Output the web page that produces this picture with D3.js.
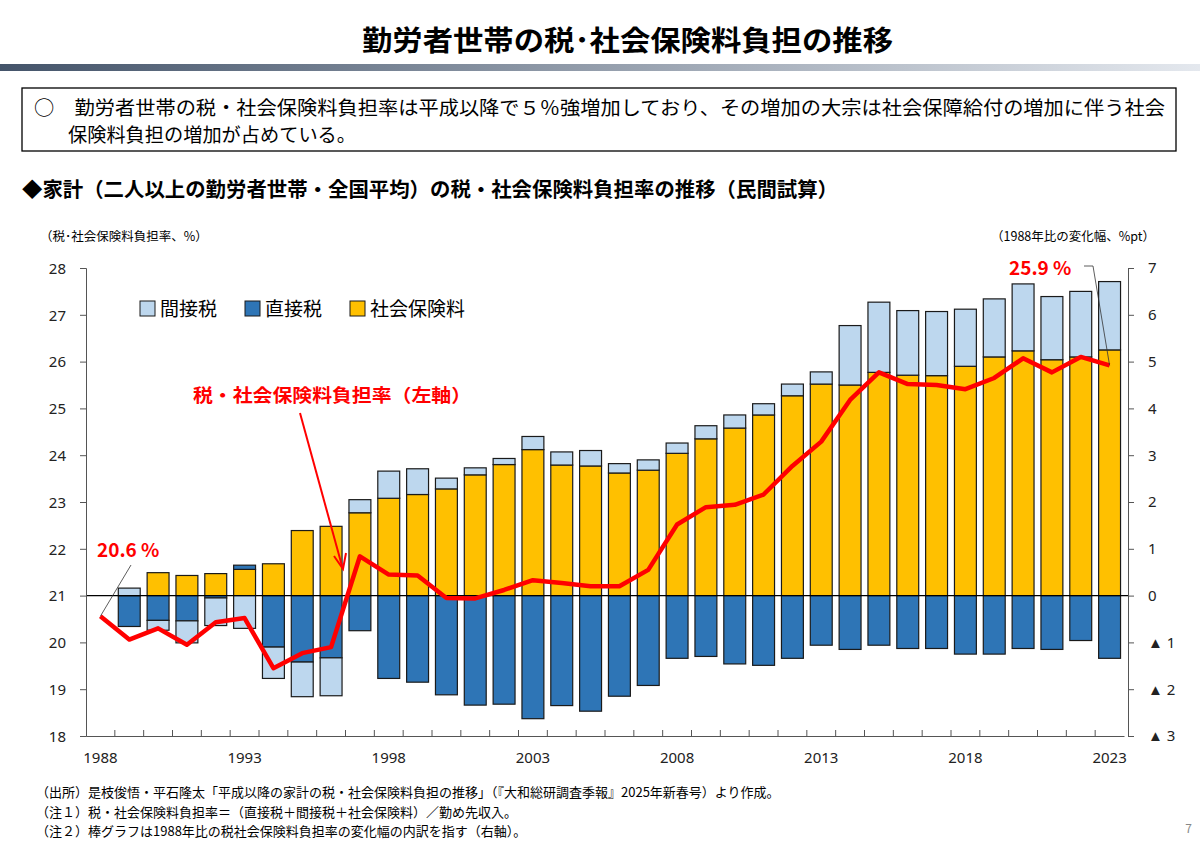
<!DOCTYPE html>
<html><head><meta charset="utf-8">
<script src="https://cdn.jsdelivr.net/npm/d3@7"></script>
<style>
body{margin:0;background:#fff;font-family:"Noto Sans CJK JP","Noto Sans",sans-serif;}
</style></head>
<body><svg id="chart" width="1200" height="849"></svg>
<script>
// years on the x axis
var years = d3.range(1988, 2024);
// change vs 1988, %pt (right axis)
var socialIns = [0,0,0.49,0.43,0.47,0.56,0.68,1.39,1.48,1.77,2.08,2.16,2.28,2.58,2.80,3.12,2.79,2.77,2.62,2.68,3.04,3.35,3.58,3.86,4.27,4.52,4.50,4.77,4.71,4.70,4.90,5.10,5.23,5.04,5.10,5.25];
var directTax = [0,-0.66,-0.53,-0.54,-0.05,0.09,-1.10,-1.42,-1.33,-0.75,-1.77,-1.85,-2.12,-2.34,-2.32,-2.63,-2.35,-2.47,-2.15,-1.92,-1.34,-1.30,-1.46,-1.49,-1.34,-1.06,-1.15,-1.06,-1.13,-1.13,-1.25,-1.25,-1.13,-1.15,-0.96,-1.34];
var indirectTax = [0,0.16,-0.21,-0.47,-0.59,-0.70,-0.67,-0.74,-0.81,0.28,0.58,0.55,0.23,0.15,0.13,0.28,0.28,0.33,0.20,0.22,0.22,0.28,0.28,0.24,0.25,0.26,1.27,1.50,1.38,1.37,1.22,1.24,1.43,1.35,1.40,1.46];
// burden rate, % (left axis)
var burdenRate = [20.56,20.06,20.30,19.95,20.43,20.52,19.45,19.77,19.90,21.84,21.45,21.43,20.95,20.94,21.12,21.33,21.27,21.20,21.20,21.55,22.52,22.89,22.94,23.16,23.77,24.29,25.18,25.77,25.52,25.50,25.41,25.65,26.07,25.77,26.10,25.92];
var leftTicks = d3.range(18, 29);
var rightTicks = d3.range(-3, 8);
var xLabels = [1988,1993,1998,2003,2008,2013,2018,2023];

var svg = d3.select("#chart");
var C = {ind:"#bdd7ee", dir:"#2e75b6", soc:"#ffc000"};

// header
var grad = svg.append("defs").append("linearGradient").attr("id","hg");
grad.append("stop").attr("offset","0").attr("stop-color","#44546a");
grad.append("stop").attr("offset","1").attr("stop-color","#e4e8ee");
svg.append("rect").attr("x",0).attr("y",64).attr("width",1200).attr("height",7).attr("fill","url(#hg)");
svg.append("text").attr("x",362).attr("y",51).attr("textLength",531).attr("lengthAdjust","spacingAndGlyphs")
  .attr("font-size",28).attr("font-weight","bold").text("勤労者世帯の税･社会保険料負担の推移");

svg.append("rect").attr("x",22).attr("y",88).attr("width",1154).attr("height",63)
  .attr("fill","none").attr("stroke","#000").attr("stroke-width",1.3);
svg.append("text").attr("x",34).attr("y",115).attr("font-size",19).attr("textLength",1131).attr("lengthAdjust","spacingAndGlyphs")
  .text("○　勤労者世帯の税・社会保険料負担率は平成以降で５％強増加しており、その増加の大宗は社会保障給付の増加に伴う社会");
svg.append("text").attr("x",68).attr("y",142).attr("font-size",19).attr("textLength",288).attr("lengthAdjust","spacingAndGlyphs")
  .text("保険料負担の増加が占めている。");
svg.append("text").attr("x",22).attr("y",197).attr("font-size",20).attr("font-weight","bold")
  .attr("textLength",816).attr("lengthAdjust","spacingAndGlyphs")
  .text("◆家計（二人以上の勤労者世帯・全国平均）の税・社会保険料負担率の推移（民間試算）");

svg.append("text").attr("x",40).attr("y",241).attr("font-size",12.5).text("（税･社会保険料負担率、%）");
svg.append("text").attr("x",1155).attr("y",241).attr("font-size",12.5).attr("text-anchor","end").text("（1988年比の変化幅、%pt）");

// scales
var x = d3.scaleBand().domain(years).range([86,1124]).paddingInner(0.24).paddingOuter(0.12);
var yL = d3.scaleLinear().domain([18,28]).range([736,268]);
var yR = d3.scaleLinear().domain([-3,7]).range([736,268]);

// stacked bars (positives up from 0, negatives down from 0)
var segs = [];
years.forEach(function(yr,i){
  var pos = 0, neg = 0;
  [["soc",socialIns[i]],["dir",directTax[i]],["ind",indirectTax[i]]].forEach(function(p){
    var v = p[1]; if (v === 0) return;
    if (v > 0) { segs.push({yr:yr,k:p[0],a:pos,b:pos+v}); pos += v; }
    else { segs.push({yr:yr,k:p[0],a:neg+v,b:neg}); neg += v; }
  });
});
svg.append("g").selectAll("rect").data(segs).enter().append("rect")
  .attr("x",function(d){return x(d.yr);})
  .attr("width",x.bandwidth())
  .attr("y",function(d){return yR(d.b);})
  .attr("height",function(d){return yR(d.a)-yR(d.b);})
  .attr("fill",function(d){return C[d.k];})
  .attr("stroke","#1a1a1a").attr("stroke-width",1.2);

// zero line
svg.append("line").attr("x1",86).attr("x2",1128).attr("y1",yR(0)).attr("y2",yR(0)).attr("stroke","#000").attr("stroke-width",1.2);

// axes
var axL = svg.append("g").attr("transform","translate(86,0)")
  .call(d3.axisLeft(yL).tickValues(leftTicks).tickSize(6).tickPadding(14));
var axR = svg.append("g").attr("transform","translate(1128,0)")
  .call(d3.axisRight(yR).tickValues(rightTicks).tickSize(6).tickPadding(14)
    .tickFormat(function(d){return d < 0 ? "▲ " + (-d) : d;}));
var axB = svg.append("g").attr("transform","translate(0,736)")
  .call(d3.axisBottom(x).tickValues(xLabels).tickSize(0).tickPadding(16));
[axL,axR,axB].forEach(function(a){
  a.selectAll("text").attr("font-size",15).attr("fill","#222").attr("font-family","Noto Sans, sans-serif");
  a.selectAll("path,line").attr("stroke","#555");
});
axL.selectAll("text").attr("dy","0.35em");
// small x ticks between bars
svg.append("g").selectAll("line").data(years.slice(1)).enter().append("line")
  .attr("x1",function(d){return x(d)-x.step()*0.12;})
  .attr("x2",function(d){return x(d)-x.step()*0.12;})
  .attr("y1",736).attr("y2",730).attr("stroke","#555");

// rate line
var line = d3.line().x(function(d,i){return x(years[i])+x.bandwidth()/2;}).y(function(d){return yL(d);});
svg.append("path").datum(burdenRate).attr("d",line).attr("fill","none")
  .attr("stroke","#ff0000").attr("stroke-width",4.5).attr("stroke-linejoin","round");

// legend
var leg = [["間接税","ind",140],["直接税","dir",245],["社会保険料","soc",350]];
leg.forEach(function(l){
  svg.append("rect").attr("x",l[2]).attr("y",301).attr("width",15).attr("height",15)
    .attr("fill",C[l[1]]).attr("stroke","#1a1a1a");
  svg.append("text").attr("x",l[2]+20).attr("y",316).attr("font-size",19).text(l[0]);
});

// annotations
svg.append("text").attr("x",193).attr("y",402).attr("font-size",18).attr("font-weight","bold")
  .attr("textLength",278).attr("lengthAdjust","spacingAndGlyphs")
  .attr("fill","#ff0000").text("税・社会保険料負担率（左軸）");
svg.append("line").attr("x1",300).attr("y1",413).attr("x2",342).attr("y2",566).attr("stroke","#ff0000").attr("stroke-width",2);
svg.append("path").attr("d","M334,556 L343,569 L346,553").attr("fill","none").attr("stroke","#ff0000").attr("stroke-width",2);

svg.append("text").attr("x",97).attr("y",557).attr("font-size",19).attr("font-weight","bold")
  .attr("fill","#ff0000").text("20.6 %");
svg.append("line").attr("x1",131).attr("y1",565).attr("x2",x(1988)+x.bandwidth()/2).attr("y2",yL(burdenRate[0]))
  .attr("stroke","#333").attr("stroke-width",0.8);
svg.append("text").attr("x",1009).attr("y",275).attr("font-size",19).attr("font-weight","bold")
  .attr("fill","#ff0000").text("25.9 %");
svg.append("polyline").attr("points","1084,266 1093,266 "+(x(2023)+x.bandwidth()/2)+","+yL(burdenRate[35]))
  .attr("fill","none").attr("stroke","#333").attr("stroke-width",0.8);

// notes
var notes = ["（出所）是枝俊悟・平石隆太「平成以降の家計の税・社会保険料負担の推移」（『大和総研調査季報』2025年新春号）より作成。",
  "（注１）税・社会保険料負担率＝（直接税＋間接税＋社会保険料）／勤め先収入。",
  "（注２）棒グラフは1988年比の税社会保険料負担率の変化幅の内訳を指す（右軸）。"];
notes.forEach(function(t,i){
  svg.append("text").attr("x",36).attr("y",797+i*19.5).attr("font-size",13).text(t);
});
svg.append("text").attr("x",1192).attr("y",833).attr("font-size",12).attr("fill","#888").attr("text-anchor","end").text("7");
</script></body></html>
